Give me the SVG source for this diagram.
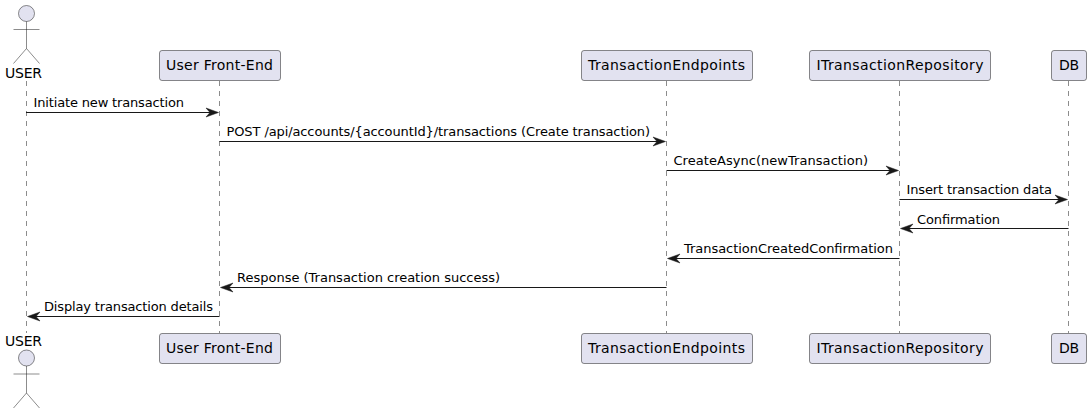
<svg xmlns="http://www.w3.org/2000/svg" width="1091" height="414" viewBox="0 0 1091 414">
<style>
text{font-family:"DejaVu Sans",sans-serif;fill:#000}
.p{font-size:14px}
.m{font-size:13px}
.box{fill:#E2E2F0;stroke:#181818;stroke-width:.5}
.life{stroke:#181818;stroke-width:.5;stroke-dasharray:5,5;fill:none}
.msg{stroke:#181818;stroke-width:1;fill:none}
.a{fill:#181818;stroke:#181818;stroke-width:.5}
.act{fill:none;stroke:#181818;stroke-width:.5}
.head{fill:#E2E2F0;stroke:#181818;stroke-width:.5}
</style>
<defs>
<g id="actor"><circle class="head" cx="26.500" cy="13.500" r="8"/><path class="act" d="M26.500 21.500V48.500M13.500 29.500H39.500M26.500 48.500L13.500 63.500M26.500 48.500L39.500 63.500"/></g>
<path id="ar" class="a" d="M0 0L-12.500 -4.500L-8.500 0L-12.500 4.500Z"/>
<path id="al" class="a" d="M0 0L12.500 -4.500L8.500 0L12.500 4.500Z"/>
</defs>
<g id="lifelines">
<path class="life" d="M26.500 81V333M219.500 81V333M666.500 81V333M899.500 81V333M1068.500 81V333"/>
</g>
<g id="connectors">
<path class="msg" d="M26 112.500H216"/><use href="#ar" x="218.500" y="112.500"/>
<path class="msg" d="M219.500 141.500H663"/><use href="#ar" x="665.500" y="141.500"/>
<path class="msg" d="M666.500 170.500H896"/><use href="#ar" x="898.500" y="170.500"/>
<path class="msg" d="M899.500 199.500H1065"/><use href="#ar" x="1067.500" y="199.500"/>
<path class="msg" d="M1068.500 228.500H903"/><use href="#al" x="900.500" y="228.500"/>
<path class="msg" d="M899.500 258.500H670"/><use href="#al" x="667.500" y="258.500"/>
<path class="msg" d="M666.500 287.500H223"/><use href="#al" x="220.500" y="287.500"/>
<path class="msg" d="M219.500 316.500H30"/><use href="#al" x="27.500" y="316.500"/>
</g>
<g id="labels">
<text class="m" x="33.500" y="107" textLength="150.500">Initiate new transaction</text>
<text class="m" x="226.500" y="136" textLength="423.500">POST /api/accounts/{accountId}/transactions (Create transaction)</text>
<text class="m" x="673.500" y="165" textLength="194.500">CreateAsync(newTransaction)</text>
<text class="m" x="906.500" y="194" textLength="145.500">Insert transaction data</text>
<text class="m" x="917" y="224" textLength="83">Confirmation</text>
<text class="m" x="684" y="253" textLength="209">TransactionCreatedConfirmation</text>
<text class="m" x="237" y="282" textLength="263">Response (Transaction creation success)</text>
<text class="m" x="44" y="311" textLength="169">Display transaction details</text>
</g>
<g id="user-top"><use href="#actor"/><text class="p" x="5" y="77.500" textLength="37">USER</text></g>
<g id="user-bottom"><use href="#actor" y="344.500"/><text class="p" x="5" y="346" textLength="37">USER</text></g>
<g id="frontend-top"><rect class="box" x="159.500" y="50.500" width="121" height="30" rx="2.500"/><text class="p" x="166" y="70" textLength="107">User Front-End</text></g>
<g id="frontend-bottom"><rect class="box" x="159.500" y="333.500" width="121" height="30" rx="2.500"/><text class="p" x="166" y="353" textLength="107">User Front-End</text></g>
<g id="endpoints-top"><rect class="box" x="581.500" y="50.500" width="171" height="30" rx="2.500"/><text class="p" x="588" y="70" textLength="157">TransactionEndpoints</text></g>
<g id="endpoints-bottom"><rect class="box" x="581.500" y="333.500" width="171" height="30" rx="2.500"/><text class="p" x="588" y="353" textLength="157">TransactionEndpoints</text></g>
<g id="repo-top"><rect class="box" x="809.500" y="50.500" width="181" height="30" rx="2.500"/><text class="p" x="816.500" y="70" textLength="167">ITransactionRepository</text></g>
<g id="repo-bottom"><rect class="box" x="809.500" y="333.500" width="181" height="30" rx="2.500"/><text class="p" x="816.500" y="353" textLength="167">ITransactionRepository</text></g>
<g id="db-top"><rect class="box" x="1051.500" y="50.500" width="35" height="30" rx="2.500"/><text class="p" x="1059" y="70" textLength="20">DB</text></g>
<g id="db-bottom"><rect class="box" x="1051.500" y="333.500" width="35" height="30" rx="2.500"/><text class="p" x="1059" y="353" textLength="20">DB</text></g>
</svg>
